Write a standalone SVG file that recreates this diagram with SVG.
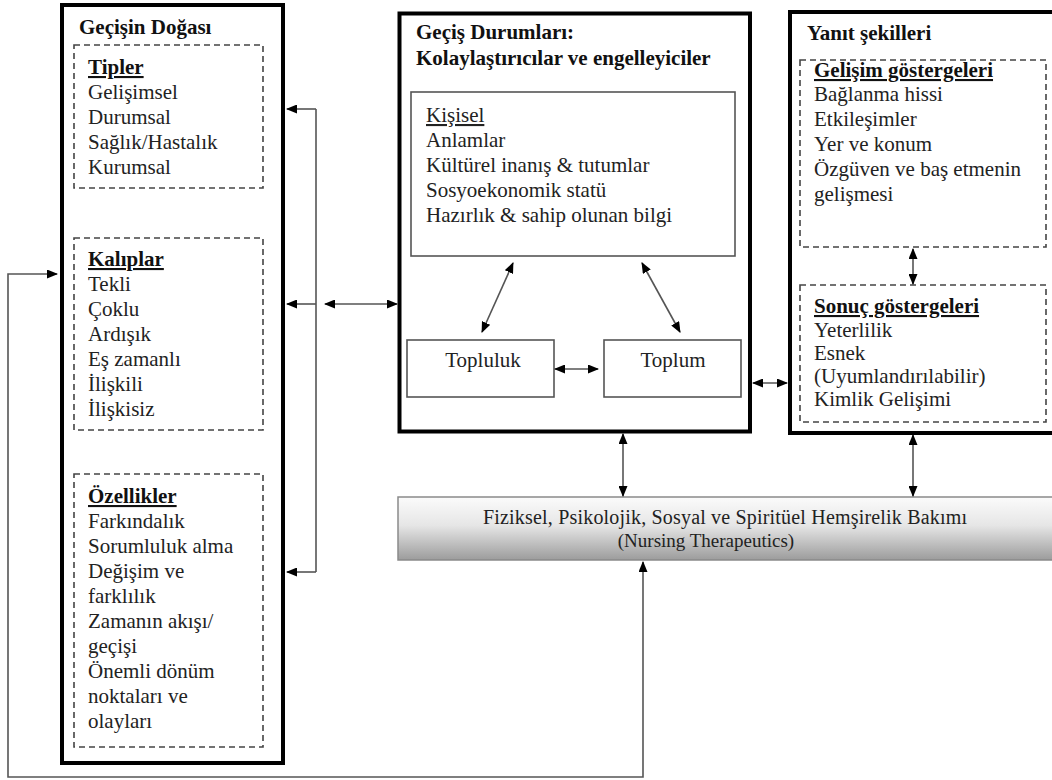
<svg xmlns="http://www.w3.org/2000/svg" width="1052" height="780" viewBox="0 0 1052 780">
<style>
text{font-family:'Liberation Serif','DejaVu Serif',serif;font-size:21px;fill:#222}
.b{font-weight:bold;fill:#111}
.u{text-decoration:underline}
.thick{fill:#fff;stroke:#000;stroke-width:4}
.dash{fill:none;stroke:#444;stroke-width:1.6;stroke-dasharray:6 4}
.thin{fill:#fff;stroke:#555;stroke-width:1.6}
.con{fill:none;stroke:#555;stroke-width:1.6}
</style>
<defs>
<marker id="ah" markerUnits="userSpaceOnUse" markerWidth="11" markerHeight="9" refX="10" refY="4.5" orient="auto-start-reverse" viewBox="0 0 11 9">
<path d="M0,0 L11,4.5 L0,9 z" fill="#000"/>
</marker>
<linearGradient id="g" x1="0" y1="0" x2="0" y2="1">
<stop offset="0" stop-color="#fbfbfb"/>
<stop offset="0.45" stop-color="#e6e6e6"/>
<stop offset="1" stop-color="#9c9c9c"/>
</linearGradient>
</defs>
<rect width="1052" height="780" fill="#fff"/>

<g font-family="Liberation Serif, DejaVu Serif, serif">
<g id="node-gecisin-dogasi">
<rect class="thick" x="62" y="5" width="221" height="758"/>
<text class="b" x="79" y="34">Geçişin Doğası</text>
<rect class="dash" x="74" y="45" width="189" height="143"/>
<text class="b u" x="88" y="74">Tipler</text>
<text x="88" y="99">Gelişimsel</text>
<text x="88" y="124">Durumsal</text>
<text x="88" y="149">Sağlık/Hastalık</text>
<text x="88" y="174">Kurumsal</text>
<rect class="dash" x="74" y="238" width="189" height="192"/>
<text class="b u" x="88" y="266">Kalıplar</text>
<text x="88" y="291">Tekli</text>
<text x="88" y="316">Çoklu</text>
<text x="88" y="341">Ardışık</text>
<text x="88" y="366">Eş zamanlı</text>
<text x="88" y="391">İlişkili</text>
<text x="88" y="416">İlişkisiz</text>
<rect class="dash" x="74" y="474" width="189" height="273"/>
<text class="b u" x="88" y="503">Özellikler</text>
<text x="88" y="528">Farkındalık</text>
<text x="88" y="553">Sorumluluk alma</text>
<text x="88" y="578">Değişim ve</text>
<text x="88" y="603">farklılık</text>
<text x="88" y="628">Zamanın akışı/</text>
<text x="88" y="653">geçişi</text>
<text x="88" y="678">Önemli dönüm</text>
<text x="88" y="703">noktaları ve</text>
<text x="88" y="728">olayları</text>
</g>

<g id="node-gecis-durumlari">
<rect class="thick" x="399.5" y="13.5" width="350.5" height="418"/>
<text class="b" x="416" y="39">Geçiş Durumları:</text>
<text class="b" x="416" y="65">Kolaylaştırıcılar ve engelleyiciler</text>
</g>

<g id="node-kisisel">
<rect class="thin" x="411" y="92" width="324" height="164"/>
<text class="u" x="426" y="122">Kişisel</text>
<text x="426" y="147">Anlamlar</text>
<text x="426" y="172">Kültürel inanış &amp; tutumlar</text>
<text x="426" y="197">Sosyoekonomik statü</text>
<text x="426" y="222">Hazırlık &amp; sahip olunan bilgi</text>
</g>

<g id="node-topluluk">
<rect class="thin" x="407" y="340" width="147" height="57"/>
<text x="483" y="367" text-anchor="middle">Topluluk</text>
</g>

<g id="node-toplum">
<rect class="thin" x="604" y="340" width="137" height="57"/>
<text x="673" y="367" text-anchor="middle">Toplum</text>
</g>

<g id="node-yanit-sekilleri">
<rect class="thick" x="790" y="12" width="272" height="421"/>
<text class="b" x="807" y="40">Yanıt şekilleri</text>
<rect class="dash" x="800" y="60" width="246" height="187"/>
<text class="b u" x="814" y="77">Gelişim göstergeleri</text>
<text x="814" y="101">Bağlanma hissi</text>
<text x="814" y="126">Etkileşimler</text>
<text x="814" y="151">Yer ve konum</text>
<text x="814" y="176">Özgüven ve baş etmenin</text>
<text x="814" y="201">gelişmesi</text>
<rect class="dash" x="800" y="285" width="246" height="137"/>
<text class="b u" x="814" y="313">Sonuç göstergeleri</text>
<text x="814" y="337">Yeterlilik</text>
<text x="814" y="360">Esnek</text>
<text x="814" y="383">(Uyumlandırılabilir)</text>
<text x="814" y="406">Kimlik Gelişimi</text>
</g>

<g id="node-nursing">
<rect x="398" y="497" width="670" height="63" fill="url(#g)" stroke="#8a8a8a" stroke-width="1.5"/>
<text x="483" y="524" textLength="484" lengthAdjust="spacing" style="font-size:20px">Fiziksel, Psikolojik, Sosyal ve Spiritüel Hemşirelik Bakımı</text>
<text x="706" y="547" text-anchor="middle" style="font-size:19px">(Nursing Therapeutics)</text>
</g>
</g>

<g id="connectors">
<path class="con" d="M316,109 L316,572"/>
<path class="con" d="M316,109 L287,109" marker-end="url(#ah)"/>
<path class="con" d="M316,304 L287,304" marker-end="url(#ah)"/>
<path class="con" d="M316,572 L287,572" marker-end="url(#ah)"/>
<path class="con" d="M325,304 L397,304" marker-start="url(#ah)" marker-end="url(#ah)"/>
<path class="con" d="M513,263 L482,332" marker-start="url(#ah)" marker-end="url(#ah)"/>
<path class="con" d="M642,263 L680,332" marker-start="url(#ah)" marker-end="url(#ah)"/>
<path class="con" d="M555,369 L598,369" marker-start="url(#ah)" marker-end="url(#ah)"/>
<path class="con" d="M753,383 L787,383" marker-start="url(#ah)" marker-end="url(#ah)"/>
<path class="con" d="M913,249 L913,284" marker-start="url(#ah)" marker-end="url(#ah)"/>
<path class="con" d="M623,434 L623,496" marker-start="url(#ah)" marker-end="url(#ah)"/>
<path class="con" d="M913,435 L913,496" marker-start="url(#ah)" marker-end="url(#ah)"/>
<path class="con" d="M57,274 L8,274 L8,777 L643,777 L643,562" marker-start="url(#ah)" marker-end="url(#ah)"/>
</g>
</svg>
